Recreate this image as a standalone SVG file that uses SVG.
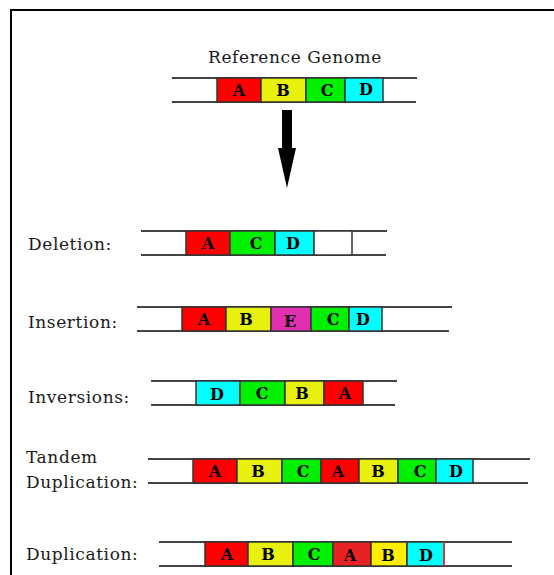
<svg xmlns="http://www.w3.org/2000/svg" width="554" height="575" viewBox="0 0 554 575">
  <style>
    .frame { fill: none; stroke: #000; stroke-width: 2; }
    .strand { stroke: #444; stroke-width: 2; fill: none; }
    .seg { stroke: #333; stroke-width: 1.5; }
    .label { font-family: "DejaVu Serif", "Liberation Serif", serif; font-size: 17px; letter-spacing: 0.6px; fill: #1a1a1a; }
    .title { font-family: "DejaVu Serif", "Liberation Serif", serif; font-size: 17px; letter-spacing: 0.6px; fill: #1a1a1a; text-anchor: middle; }
    .gene { font-family: "DejaVu Serif", "Liberation Serif", serif; font-size: 16px; font-weight: bold; fill: #000; text-anchor: middle; }
    .red { fill: #ff0000; }
    .yel { fill: #e8f00e; }
    .grn { fill: #00f000; }
    .cyn { fill: #00ffff; }
    .mag { fill: #e030b0; }
    .wht { fill: #fff; }
  </style>

  <rect width="554" height="575" fill="#fff"/>
  <!-- outer frame: top and left edges -->
  <polyline class="frame" points="11,575 11,10 554,10"/>

  <!-- reference genome -->
  <g id="reference">
    <text class="title" x="295" y="63">Reference Genome</text>
    <line class="strand" x1="172" y1="78" x2="417" y2="78"/>
    <line class="strand" x1="172" y1="102" x2="416" y2="102"/>
    <rect class="seg red" x="217" y="78" width="44" height="24"/>
    <rect class="seg yel" x="261" y="78" width="45" height="24"/>
    <rect class="seg grn" x="306" y="78" width="39" height="24"/>
    <rect class="seg cyn" x="345" y="78" width="38" height="24"/>
    <text class="gene" x="239" y="96">A</text>
    <text class="gene" x="283" y="96">B</text>
    <text class="gene" x="327" y="96">C</text>
    <text class="gene" x="366" y="95">D</text>
  </g>

  <!-- deletion -->
  <g id="deletion">
    <text class="label" x="28" y="250">Deletion:</text>
    <line class="strand" x1="141" y1="231" x2="387" y2="231"/>
    <line class="strand" x1="141" y1="255" x2="386" y2="255"/>
    <rect class="seg red" x="186" y="231" width="44" height="24"/>
    <rect class="seg grn" x="230" y="231" width="45" height="24"/>
    <rect class="seg cyn" x="275" y="231" width="39" height="24"/>
    <rect class="seg wht" x="314" y="231" width="38" height="24"/>
    <text class="gene" x="208" y="249">A</text>
    <text class="gene" x="256" y="249">C</text>
    <text class="gene" x="293" y="249">D</text>
  </g>

  <!-- insertion -->
  <g id="insertion">
    <text class="label" x="28" y="328">Insertion:</text>
    <line class="strand" x1="137" y1="307" x2="452" y2="307"/>
    <line class="strand" x1="137" y1="331" x2="449" y2="331"/>
    <rect class="seg red" x="182" y="307" width="44" height="24"/>
    <rect class="seg yel" x="226" y="307" width="45" height="24"/>
    <rect class="seg mag" x="271" y="307" width="40" height="24"/>
    <rect class="seg grn" x="311" y="307" width="38" height="24"/>
    <rect class="seg cyn" x="349" y="307" width="33" height="24"/>
    <text class="gene" x="204" y="325">A</text>
    <text class="gene" x="246" y="325">B</text>
    <text class="gene" x="290" y="327">E</text>
    <text class="gene" x="333" y="325">C</text>
    <text class="gene" x="363" y="325">D</text>
  </g>

  <!-- inversions -->
  <g id="inversions">
    <text class="label" x="28" y="403">Inversions:</text>
    <line class="strand" x1="151" y1="381" x2="397" y2="381"/>
    <line class="strand" x1="151" y1="405" x2="395" y2="405"/>
    <rect class="seg cyn" x="196" y="381" width="44" height="24"/>
    <rect class="seg grn" x="240" y="381" width="45" height="24"/>
    <rect class="seg yel" x="285" y="381" width="39" height="24"/>
    <rect class="seg red" x="324" y="381" width="39" height="24"/>
    <text class="gene" x="217" y="400">D</text>
    <text class="gene" x="262" y="399">C</text>
    <text class="gene" x="302" y="399">B</text>
    <text class="gene" x="345" y="399">A</text>
  </g>

  <!-- tandem duplication -->
  <g id="tandem-duplication">
    <text class="label" x="26" y="463">Tandem</text>
    <text class="label" x="26" y="488">Duplication:</text>
    <line class="strand" x1="148" y1="459" x2="530" y2="459"/>
    <line class="strand" x1="148" y1="483" x2="528" y2="483"/>
    <rect class="seg red" x="193" y="459" width="44" height="24"/>
    <rect class="seg yel" x="237" y="459" width="45" height="24"/>
    <rect class="seg grn" x="282" y="459" width="39" height="24"/>
    <rect class="seg red" x="321" y="459" width="38" height="24"/>
    <rect class="seg yel" x="359" y="459" width="39" height="24"/>
    <rect class="seg grn" x="398" y="459" width="38" height="24"/>
    <rect class="seg cyn" x="436" y="459" width="37" height="24"/>
    <text class="gene" x="215" y="477">A</text>
    <text class="gene" x="258" y="477">B</text>
    <text class="gene" x="303" y="477">C</text>
    <text class="gene" x="338" y="477">A</text>
    <text class="gene" x="378" y="477">B</text>
    <text class="gene" x="420" y="477">C</text>
    <text class="gene" x="456" y="477">D</text>
  </g>

  <!-- duplication -->
  <g id="duplication">
    <text class="label" x="26" y="560">Duplication:</text>
    <line class="strand" x1="159" y1="542" x2="512" y2="542"/>
    <line class="strand" x1="159" y1="566" x2="512" y2="566"/>
    <rect class="seg red" x="205" y="542" width="43" height="24"/>
    <rect class="seg yel" x="248" y="542" width="45" height="24"/>
    <rect class="seg grn" x="293" y="542" width="40" height="24"/>
    <rect class="seg" fill="#e82222" x="333" y="542" width="38" height="24"/>
    <rect class="seg" fill="#ffee00" x="371" y="542" width="36" height="24"/>
    <rect class="seg cyn" x="407" y="542" width="37" height="24"/>
    <line x1="444" y1="542" x2="444" y2="566" stroke="#ff3030" stroke-width="1.5"/>
    <text class="gene" x="227" y="560">A</text>
    <text class="gene" x="268" y="560">B</text>
    <text class="gene" x="314" y="560">C</text>
    <text class="gene" x="350" y="561">A</text>
    <text class="gene" x="388" y="561">B</text>
    <text class="gene" x="426" y="561">D</text>
  </g>

  <!-- connectors -->
  <g id="connectors">
    <polygon fill="#000" points="282,110 292,110 292,148 296,148 287,188 278,148 282,148"/>
  </g>
</svg>
